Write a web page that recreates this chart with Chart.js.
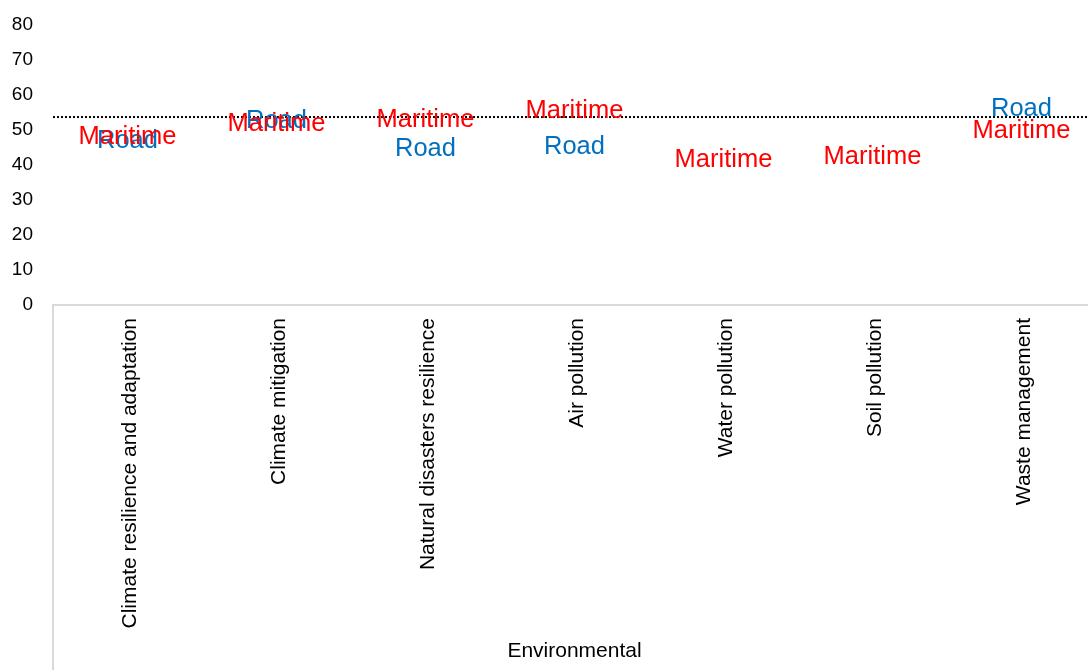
<!DOCTYPE html>
<html>
<head>
<meta charset="utf-8">
<script src="https://cdn.jsdelivr.net/npm/chart.js@4.4.1/dist/chart.umd.min.js"></script>
<style>
    html, body { margin: 0; padding: 0; background: #fff; overflow: hidden; }
    .chart-wrap { width: 1096px; height: 670px; }
</style>
</head>
<body>
<div class="chart-wrap"><canvas id="scoreChart"></canvas></div>
<script>
// Dados
const categories = ['Climate resilience and adaptation', 'Climate mitigation', 'Natural disasters resilience',
    'Air pollution', 'Water pollution', 'Soil pollution', 'Waste management'];
const groupLabel = 'Environmental';
const maritime = [47.9, 51.8, 52.9, 55.4, 41.3, 42.2, 49.8];
const road = [46.9, 52.5, 44.5, 45.2, null, null, 55.9];
const average = 53.7;
const yTicks = [0, 10, 20, 30, 40, 50, 60, 70, 80];

const FONT = "'Liberation Sans', Arial, sans-serif";

// Linha pontilhada da média
const averageLine = {
    id: 'averageLine',
    beforeDatasetsDraw(chart) {
        const { ctx, chartArea, scales } = chart;
        const y = scales.y.getPixelForValue(average);
        ctx.save();
        ctx.strokeStyle = '#000';
        ctx.lineWidth = 2;
        ctx.setLineDash([2, 2]);
        ctx.beginPath();
        ctx.moveTo(chartArea.left, y);
        ctx.lineTo(chartArea.right, y);
        ctx.stroke();
        ctx.restore();
    }
};

// Separador do grupo de categorias
const groupDivider = {
    id: 'groupDivider',
    afterDraw(chart) {
        const { ctx, chartArea } = chart;
        ctx.save();
        ctx.strokeStyle = '#d9d9d9';
        ctx.lineWidth = 2;
        ctx.beginPath();
        ctx.moveTo(chartArea.left, chartArea.bottom);
        ctx.lineTo(chartArea.left, chart.height);
        ctx.stroke();
        ctx.restore();
    }
};

// Rótulos com o nome da série no lugar do ponto
const seriesLabels = {
    id: 'seriesLabels',
    afterDatasetsDraw(chart) {
        const { ctx } = chart;
        ctx.save();
        ctx.font = '25.5px ' + FONT;
        ctx.textAlign = 'center';
        ctx.textBaseline = 'middle';
        chart.data.datasets.forEach((ds, i) => {
            chart.getDatasetMeta(i).data.forEach((pt, j) => {
                if (ds.data[j] == null) return;
                ctx.fillStyle = ds.textColor;
                ctx.fillText(ds.label, pt.x, pt.y);
            });
        });
        ctx.restore();
    }
};

const ctx = document.getElementById('scoreChart').getContext('2d');
const scoreChart = new Chart(ctx, {
    type: 'line',
    data: {
        labels: categories,
        datasets: [{
            label: 'Road',
            data: road,
            textColor: '#0070c0',
            showLine: false,
            pointRadius: 0
        }, {
            label: 'Maritime',
            data: maritime,
            textColor: '#ff0000',
            showLine: false,
            pointRadius: 0
        }]
    },
    options: {
        responsive: true,
        maintainAspectRatio: false,
        animation: false,
        layout: { padding: { left: 11, top: 25, right: 0, bottom: 0 } },
        plugins: {
            legend: { display: false },
            tooltip: { enabled: false }
        },
        scales: {
            x: {
                offset: true,
                afterFit(scale) {
                    scale.height = 365;
                    scale.paddingLeft = 0;
                    scale.paddingRight = 0;
                },
                grid: { display: false },
                border: { display: true, color: '#d9d9d9', width: 2 },
                ticks: {
                    color: '#000',
                    font: { family: FONT, size: 21 },
                    minRotation: 90,
                    maxRotation: 90,
                    autoSkip: false,
                    padding: 5,
                    labelOffset: 3
                },
                title: {
                    display: true,
                    text: groupLabel,
                    color: '#000',
                    font: { family: FONT, size: 21 },
                    padding: { top: 4, bottom: 6 }
                }
            },
            y: {
                min: yTicks[0],
                max: yTicks[yTicks.length - 1],
                afterBuildTicks(scale) {
                    scale.ticks = yTicks.map(v => ({ value: v }));
                },
                afterFit(scale) {
                    scale.width = 42;
                    scale.paddingTop = 0;
                    scale.paddingBottom = 0;
                },
                grid: { display: false, drawTicks: false },
                border: { display: false },
                ticks: {
                    color: '#000',
                    font: { family: FONT, size: 19 },
                    padding: 20
                }
            }
        }
    },
    plugins: [averageLine, seriesLabels, groupDivider]
});
</script>
</body>
</html>
